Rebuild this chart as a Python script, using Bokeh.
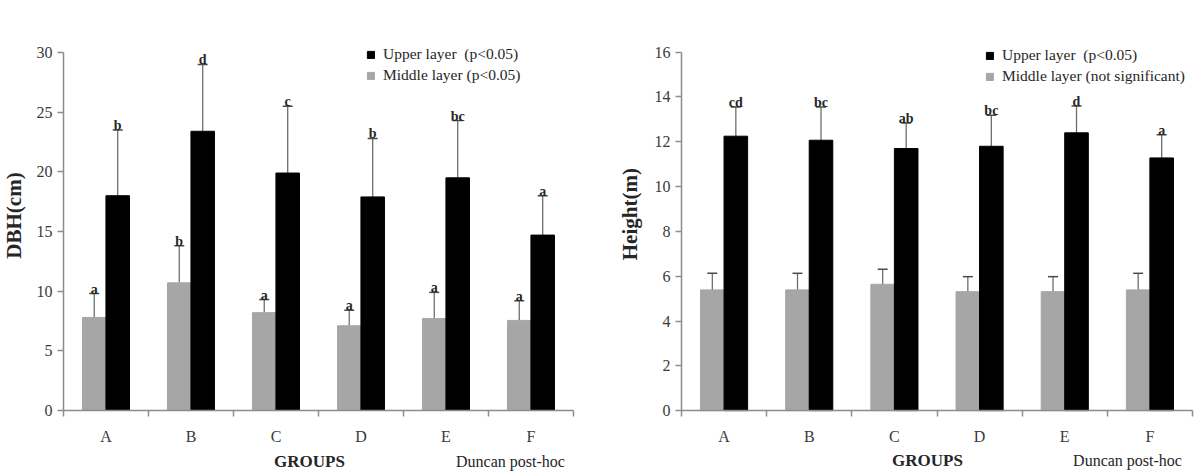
from bokeh.plotting import figure
from bokeh.layouts import row
from bokeh.models import (ColumnDataSource, Range1d, FixedTicker, Whisker, TeeHead,
                          Legend, LegendItem, Label, LinearAxis)
from bokeh.embed import file_html
from bokeh.resources import INLINE
from bokeh.core.properties import value
import math

groups = ["A", "B", "C", "D", "E", "F"]

# DBH (cm) by group
dbh_upper = [18.0, 23.4, 19.9, 17.9, 19.5, 14.7]
dbh_upper_sd = [5.5, 5.6, 5.6, 4.9, 4.8, 3.3]
dbh_upper_sig = ["b", "d", "c", "b", "bc", "a"]
dbh_middle = [7.8, 10.7, 8.2, 7.1, 7.7, 7.55]
dbh_middle_sd = [2.0, 3.1, 1.1, 1.3, 2.2, 1.65]
dbh_middle_sig = ["a", "b", "a", "a", "a", "a"]

# Height (m) by group
ht_upper = [12.25, 12.07, 11.7, 11.8, 12.4, 11.28]
ht_upper_sd = [1.3, 1.48, 1.14, 1.38, 1.2, 1.04]
ht_upper_sig = ["cd", "bc", "ab", "bc", "d", "a"]
ht_middle = [5.39, 5.39, 5.64, 5.31, 5.31, 5.39]
ht_middle_sd = [0.74, 0.74, 0.67, 0.67, 0.67, 0.74]

SERIF = "Liberation Serif"
AXIS_GREY = "#8c8c8c"
TEXT_GREY = "#3a3a3a"
INK = "#262626"
BAR_GREY = "#a6a6a6"
OFF = 0.138
BW = 0.277


def build(width, xr, yr, ymax, ystep, ylabel,
          upper, upper_sd, upper_sig, middle, middle_sd, middle_sig,
          middle_legend, leg_loc, ylab_pos, groups_pos, duncan_pos):
    # the frame fills the whole canvas; axes sit at x=0 / y=0 via fixed_location
    p = figure(width=width, height=471, x_range=Range1d(*xr), y_range=Range1d(*yr),
               output_backend="svg", toolbar_location=None, title=None,
               x_axis_type=None, y_axis_type=None,
               min_border=0, min_border_left=0, min_border_right=0,
               min_border_top=0, min_border_bottom=0)
    p.outline_line_color = None
    p.xgrid.visible = False
    p.ygrid.visible = False
    p.background_fill_color = "white"
    p.border_fill_color = "white"

    centers = [i + 0.5 for i in range(len(groups))]
    up_src = ColumnDataSource(dict(
        x=[c + OFF for c in centers], top=upper,
        upper=[u + s for u, s in zip(upper, upper_sd)], sig=upper_sig))
    mid_src = ColumnDataSource(dict(
        x=[c - OFF for c in centers], top=middle,
        upper=[m + s for m, s in zip(middle, middle_sd)],
        sig=middle_sig if middle_sig else [""] * len(groups)))

    r_mid = p.vbar(x="x", top="top", bottom=0, width=BW, source=mid_src,
                   fill_color=BAR_GREY, line_color=BAR_GREY)
    r_up = p.vbar(x="x", top="top", bottom=0, width=BW, source=up_src,
                  fill_color="black", line_color="black")

    for src in (mid_src, up_src):
        w = Whisker(base="x", lower="top", upper="upper", source=src,
                    line_color="#6e6e6e", line_width=1.3,
                    upper_head=TeeHead(size=10, line_color="#4a4a4a", line_width=1.5),
                    lower_head=None)
        p.add_layout(w)
        p.text(x="x", y="upper", text="sig", source=src,
               text_font=value(SERIF), text_font_style="bold",
               text_font_size="14px", text_color=INK,
               text_align="center", text_baseline="bottom", y_offset=3)

    # axes
    yaxis = LinearAxis(fixed_location=0, bounds=(0, ymax),
                       ticker=FixedTicker(ticks=list(range(0, ymax + 1, ystep))))
    xaxis = LinearAxis(fixed_location=0, bounds=(0, 6),
                       ticker=FixedTicker(ticks=centers, minor_ticks=list(range(0, 7))))
    xaxis.major_label_overrides = {c: g for c, g in zip(centers, groups)}
    for ax in (xaxis, yaxis):
        ax.axis_line_color = AXIS_GREY
        ax.axis_line_width = 1.5
        ax.major_label_text_font = SERIF
        ax.major_label_text_font_size = "16px"
        ax.major_label_text_color = TEXT_GREY
        ax.minor_tick_line_color = None
    yaxis.major_tick_line_color = AXIS_GREY
    yaxis.major_tick_line_width = 1.5
    yaxis.major_tick_in = 0
    yaxis.major_tick_out = 6
    yaxis.major_label_standoff = 5
    xaxis.major_tick_line_color = None
    xaxis.minor_tick_line_color = AXIS_GREY
    xaxis.minor_tick_line_width = 1.5
    xaxis.minor_tick_in = 0
    xaxis.minor_tick_out = 6
    xaxis.major_label_standoff = 11
    p.add_layout(yaxis, "left")
    p.add_layout(xaxis, "below")

    legend = Legend(items=[
        LegendItem(label="Upper layer  (p<0.05)", renderers=[r_up]),
        LegendItem(label=middle_legend, renderers=[r_mid]),
    ], location=leg_loc, orientation="vertical",
        label_text_font=SERIF, label_text_font_size="15.5px", label_text_color=INK,
        glyph_width=9, glyph_height=9, label_height=18, label_standoff=8,
        spacing=3, padding=0, margin=0,
        border_line_color=None, background_fill_alpha=0)
    p.add_layout(legend)

    p.add_layout(Label(x=ylab_pos[0], y=ylab_pos[1], text=ylabel, angle=math.pi / 2,
                       text_font=SERIF, text_font_style="bold", text_font_size="21px",
                       text_color=INK, text_align="center", text_baseline="middle"))
    p.add_layout(Label(x=groups_pos[0], y=groups_pos[1], text="GROUPS",
                       text_font=SERIF, text_font_style="bold", text_font_size="17px",
                       text_color=INK, text_align="center", text_baseline="middle"))
    p.add_layout(Label(x=duncan_pos[0], y=duncan_pos[1], text="Duncan post-hoc",
                       text_font=SERIF, text_font_size="16px",
                       text_color=INK, text_align="center", text_baseline="middle"))
    return p


p1 = build(600, (-0.741, 6.318), (-5.112, 34.36), 30, 5, "DBH(cm)",
           dbh_upper, dbh_upper_sd, dbh_upper_sig, dbh_middle, dbh_middle_sd, dbh_middle_sig,
           "Middle layer (p<0.05)", (366, 387),
           (-0.588, 16.34), (2.894, -4.25), (5.259, -4.25))
p2 = build(603, (-0.951, 6.129), (-2.717, 18.307), 16, 2, "Height(m)",
           ht_upper, ht_upper_sd, ht_upper_sig, ht_middle, ht_middle_sd, None,
           "Middle layer (not significant)", (385, 386),
           (-0.599, 8.77), (2.888, -2.22), (5.237, -2.22))

layout = row(p1, p2)
open("out.html", "w").write(file_html(layout, INLINE))
